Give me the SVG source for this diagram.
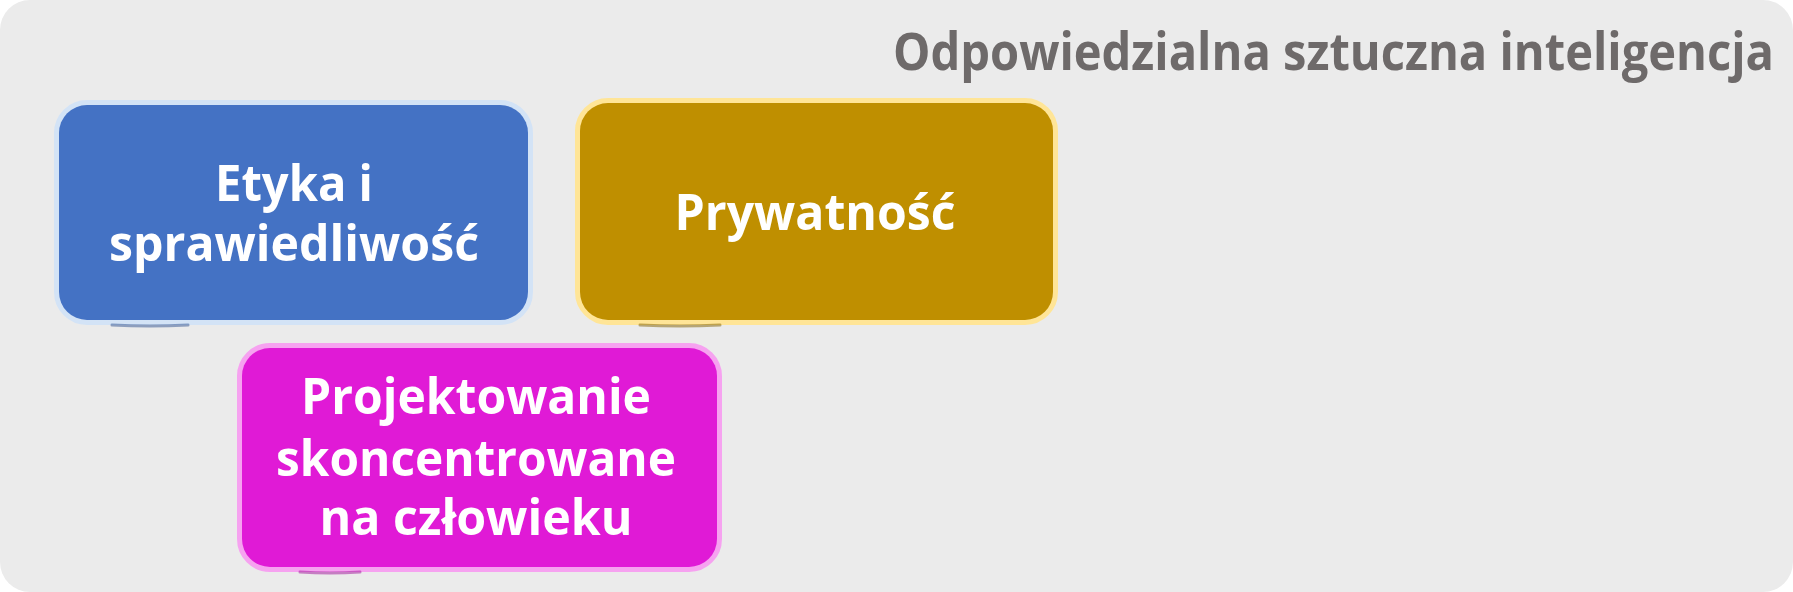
<svg xmlns="http://www.w3.org/2000/svg" width="1793" height="592" viewBox="0 0 1793 592">
  <style>
    .lbl { font-family: "Open Sans", "Noto Sans", "Liberation Sans", sans-serif; font-weight: 700; font-size: 43px; fill: #ffffff; text-anchor: middle; }
    .title { font-family: "Open Sans", "Noto Sans", "Liberation Sans", sans-serif; font-weight: 700; font-size: 44px; fill: #6e6a6a; text-anchor: end; }
    .box { stroke-width: 10; paint-order: stroke; stroke-linejoin: round; }
    .sketch { fill: none; stroke-width: 3; stroke-linecap: round; opacity: 0.5; }
  </style>
  <rect x="0" y="0" width="1793" height="592" fill="#ffffff"/>
  <rect id="panel" x="0" y="0" width="1793" height="592" rx="30" ry="30" fill="#ebebeb"/>
  <g id="title" transform="translate(1774,70) scale(1,1.18)">
    <text class="title" x="0" y="0" textLength="881" lengthAdjust="spacingAndGlyphs">Odpowiedzialna sztuczna inteligencja</text>
  </g>

  <g id="connectors"></g>

  <g id="node-etyka">
    <rect class="box" x="59" y="105" width="469" height="215" rx="28" ry="28" fill="#4472c4" stroke="#d3e3f6"/>
    <path class="sketch" d="M112 325 Q150 327 188 325" stroke="#2f528f"/>
    <g transform="translate(294,201) scale(1,1.16)">
      <text class="lbl" x="0" y="0" textLength="158" lengthAdjust="spacingAndGlyphs">Etyka i</text>
    </g>
    <g transform="translate(294,261) scale(1,1.16)">
      <text class="lbl" x="0" y="0" textLength="370" lengthAdjust="spacingAndGlyphs">sprawiedliwość</text>
    </g>
  </g>

  <g id="node-prywatnosc">
    <rect class="box" x="580" y="103" width="473" height="217" rx="28" ry="28" fill="#bf8f00" stroke="#ffe597"/>
    <path class="sketch" d="M640 325 Q680 327 720 325" stroke="#7f6000"/>
    <g transform="translate(815,230) scale(1,1.16)">
      <text class="lbl" x="0" y="0" textLength="281" lengthAdjust="spacingAndGlyphs">Prywatność</text>
    </g>
  </g>

  <g id="node-projektowanie">
    <rect class="box" x="242" y="348" width="475" height="219" rx="28" ry="28" fill="#e01ad6" stroke="#f6a2f0"/>
    <path class="sketch" d="M300 572 Q330 574 360 572" stroke="#a0109a"/>
    <g transform="translate(476,414) scale(1,1.16)">
      <text class="lbl" x="0" y="0" textLength="350" lengthAdjust="spacingAndGlyphs">Projektowanie</text>
    </g>
    <g transform="translate(476,476) scale(1,1.16)">
      <text class="lbl" x="0" y="0" textLength="400" lengthAdjust="spacingAndGlyphs">skoncentrowane</text>
    </g>
    <g transform="translate(476,535) scale(1,1.16)">
      <text class="lbl" x="0" y="0" textLength="313" lengthAdjust="spacingAndGlyphs">na człowieku</text>
    </g>
  </g>
</svg>
